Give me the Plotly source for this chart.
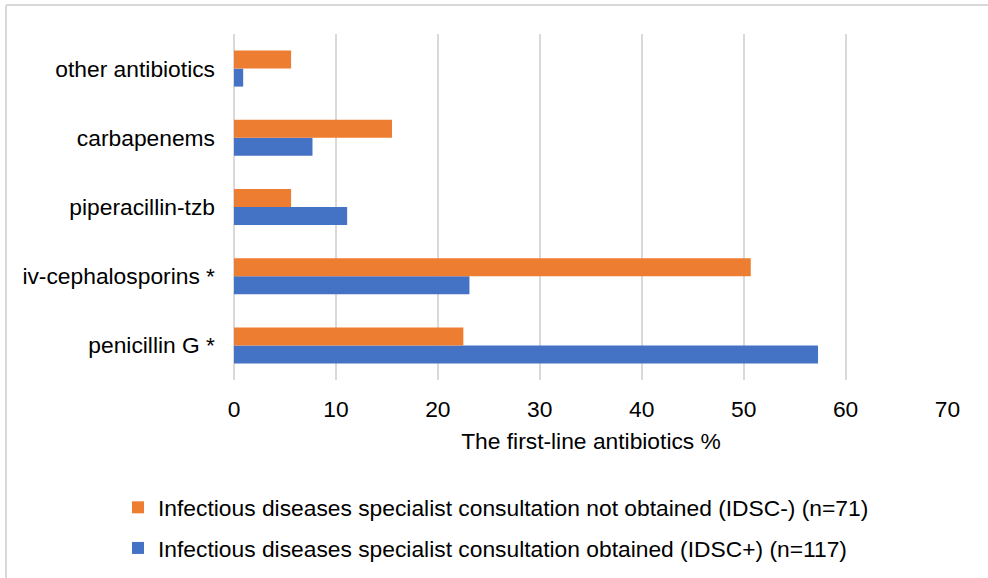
import plotly.graph_objects as go

# Categories listed bottom to top
categories = ["penicillin G *", "iv-cephalosporins *", "piperacillin-tzb",
              "carbapenems", "other antibiotics"]
idsc_pos = [57.3, 23.1, 11.1, 7.7, 0.9]    # IDSC+ (n=117), %
idsc_neg = [22.5, 50.7, 5.6, 15.5, 5.6]    # IDSC- (n=71), %
x_ticks = [0, 10, 20, 30, 40, 50, 60, 70]

name_pos = "Infectious diseases specialist consultation obtained (IDSC+) (n=117)"
name_neg = "Infectious diseases specialist consultation not obtained (IDSC-) (n=71)"

BLUE = "#4472C4"
ORANGE = "#ED7D31"
GRID = "#D9D9D9"
FONT = "Liberation Sans, Arial, sans-serif"
FS = 22.8

W, H = 988, 578
L, R, T, B = 234, 40, 34, 198
PW, PH = W - L - R, H - T - B


def px_x(p):
    return (p - L) / PW


def px_y(p):
    return (H - B - p) / PH


fig = go.Figure()
fig.add_trace(go.Bar(
    y=categories, x=idsc_pos, orientation="h", name=name_pos,
    marker=dict(color=BLUE, line=dict(width=0)), legendgroup="pos", legendrank=2,
))
fig.add_trace(go.Bar(
    y=categories, x=idsc_neg, orientation="h", name=name_neg,
    marker=dict(color=ORANGE, line=dict(width=0)), legendgroup="neg", legendrank=1,
))

# Light frame along the top and left edges of the chart area
frame = dict(type="line", xref="paper", yref="paper", line=dict(color=GRID, width=2))
fig.add_shape(**frame, x0=px_x(6), x1=px_x(W + 5), y0=px_y(5), y1=px_y(5))
fig.add_shape(**frame, x0=px_x(6), x1=px_x(6), y0=px_y(5), y1=px_y(H + 5))

fig.update_layout(
    width=W, height=H,
    margin=dict(l=L, r=R, t=T, b=B, autoexpand=False),
    paper_bgcolor="white", plot_bgcolor="white",
    font=dict(family=FONT, size=FS, color="#000000"),
    barmode="group", bargap=0.48, bargroupgap=0,
    showlegend=True,
    legend=dict(
        x=px_x(118), xanchor="left", y=px_y(486), yanchor="top",
        traceorder="grouped", tracegroupgap=8,
        font=dict(family=FONT, size=FS, color="#000000"),
        bgcolor="rgba(0,0,0,0)",
    ),
    xaxis=dict(
        range=[0, 70.05], tickvals=x_ticks, ticktext=[str(v) for v in x_ticks],
        showgrid=True, gridcolor=GRID, gridwidth=1.5,
        zeroline=True, zerolinecolor=GRID, zerolinewidth=1.5,
        showline=False, ticks="", ticklabelstandoff=13, automargin=False,
        tickfont=dict(size=FS),
        title=dict(text="The first-line antibiotics %", font=dict(size=FS), standoff=12),
    ),
    yaxis=dict(
        categoryorder="array", categoryarray=categories,
        showgrid=False, zeroline=False, showline=False, ticks="", automargin=False,
        ticklabelstandoff=18, tickfont=dict(size=FS),
    ),
)

fig.write_html("out.html")
